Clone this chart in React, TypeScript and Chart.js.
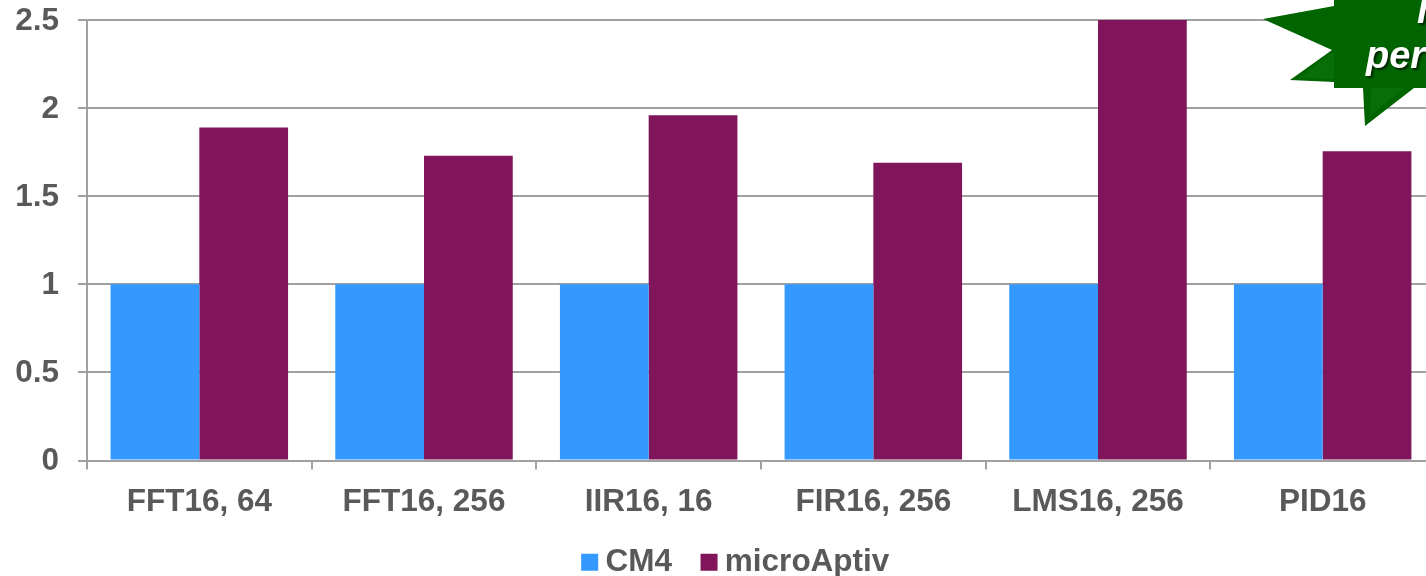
import React, { useEffect, useRef } from "react";
import { Chart, registerables } from "chart.js";

Chart.register(...registerables);

const categories = ["FFT16, 64", "FFT16, 256", "IIR16, 16", "FIR16, 256", "LMS16, 256", "PID16"];
const cm4Values = [1, 1, 1, 1, 1, 1];
const microAptivValues = [1.89, 1.73, 1.96, 1.69, 2.6, 1.755];
const seriesNames = ["CM4", "microAptiv"];
const seriesColors = ["#3399FF", "#80155C"];
const FONT = '"Liberation Sans", Arial, sans-serif';
const TEXT = "#595959";
const GRID = "#A0A0A0";
const LABEL_FONT = { family: FONT, size: 31.5, weight: "bold" };

const starPlugin = {
  id: "star",
  afterDraw(chart: any) {
    const ctx = chart.ctx;
    ctx.save();
    ctx.fillStyle = "#006400";
    ctx.beginPath();
    ctx.moveTo(1263, 19);
    ctx.lineTo(1334, 6);
    ctx.lineTo(1334, 0);
    ctx.lineTo(1440, 0);
    ctx.lineTo(1440, 88);
    ctx.lineTo(1414, 88);
    ctx.lineTo(1365, 126);
    ctx.lineTo(1363, 88);
    ctx.lineTo(1334, 88);
    ctx.lineTo(1334, 82);
    ctx.lineTo(1290, 80);
    ctx.lineTo(1332, 50);
    ctx.closePath();
    ctx.fill();
    // lighter bevel on the lower spikes
    ctx.fillStyle = "#086F08";
    ctx.beginPath();
    ctx.moveTo(1371, 88);
    ctx.lineTo(1370, 116);
    ctx.lineTo(1404, 88);
    ctx.closePath();
    ctx.fill();
    ctx.beginPath();
    ctx.moveTo(1326, 58);
    ctx.lineTo(1299, 78);
    ctx.lineTo(1334, 79);
    ctx.lineTo(1334, 52);
    ctx.closePath();
    ctx.fill();
    ctx.fillStyle = "#FFFFFF";
    ctx.shadowColor = "rgba(0,0,0,0.6)";
    ctx.shadowOffsetX = 2;
    ctx.shadowOffsetY = 2;
    ctx.shadowBlur = 2;
    ctx.font = `italic bold 38px ${FONT}`;
    ctx.textBaseline = "alphabetic";
    ctx.textAlign = "left";
    ctx.fillText("per", 1366, 68);
    ctx.fillText("h", 1417, 23);
    ctx.restore();
  },
};

export default function App() {
  const ref = useRef<HTMLCanvasElement>(null);
  useEffect(() => {
    document.body.style.background = "#fff";
    const chart = new Chart(ref.current!, {
      type: "bar",
      data: {
        labels: categories,
        datasets: [
          { label: seriesNames[0], data: cm4Values, backgroundColor: seriesColors[0], borderWidth: 0 },
          { label: seriesNames[1], data: microAptivValues, backgroundColor: seriesColors[1], borderWidth: 0 },
        ],
      },
      options: {
        responsive: false,
        animation: false,
        layout: { padding: { top: 20, right: 36, left: 44, bottom: 0 } },
        datasets: { bar: { categoryPercentage: 0.79, barPercentage: 1 } },
        plugins: {
          tooltip: { enabled: false },
          legend: {
            position: "bottom",
            labels: {
              usePointStyle: true,
              pointStyle: "rect",
              boxWidth: 0.1,
              boxHeight: 17,
              padding: 37,
              color: TEXT,
              font: LABEL_FONT,
            },
          },
        },
        scales: {
          x: {
            afterFit(scale: any) {
              scale.height = 49;
              scale.paddingLeft = 0;
              scale.paddingRight = 0;
              scale._computeLabelArea = () => undefined;
            },
            grid: { display: true, drawOnChartArea: false, drawTicks: true, tickLength: 9, color: GRID, lineWidth: 2 },
            border: { color: GRID, width: 2, z: 1 },
            ticks: { color: TEXT, padding: 14, maxRotation: 0, autoSkip: false, font: LABEL_FONT },
          },
          y: {
            min: 0,
            max: 2.5,
            afterFit(scale: any) {
              scale.width = 43;
              scale.paddingTop = 0;
              scale.paddingBottom = 0;
              scale._computeLabelArea = () => undefined;
            },
            grid: { color: GRID, lineWidth: 2, tickLength: 9 },
            border: { color: GRID, width: 2 },
            ticks: { stepSize: 0.5, color: TEXT, padding: 19, labelOffset: 1, font: LABEL_FONT, callback: (v: any) => String(v) },
          },
        },
      },
      plugins: [starPlugin],
    } as any);
    return () => chart.destroy();
  }, []);
  return (
    <div style={{ position: "fixed", left: 0, top: 0, width: 1426, height: 576, overflow: "hidden", background: "#fff" }}>
      <canvas ref={ref} width={1471} height={588} style={{ display: "block" }} />
    </div>
  );
}
